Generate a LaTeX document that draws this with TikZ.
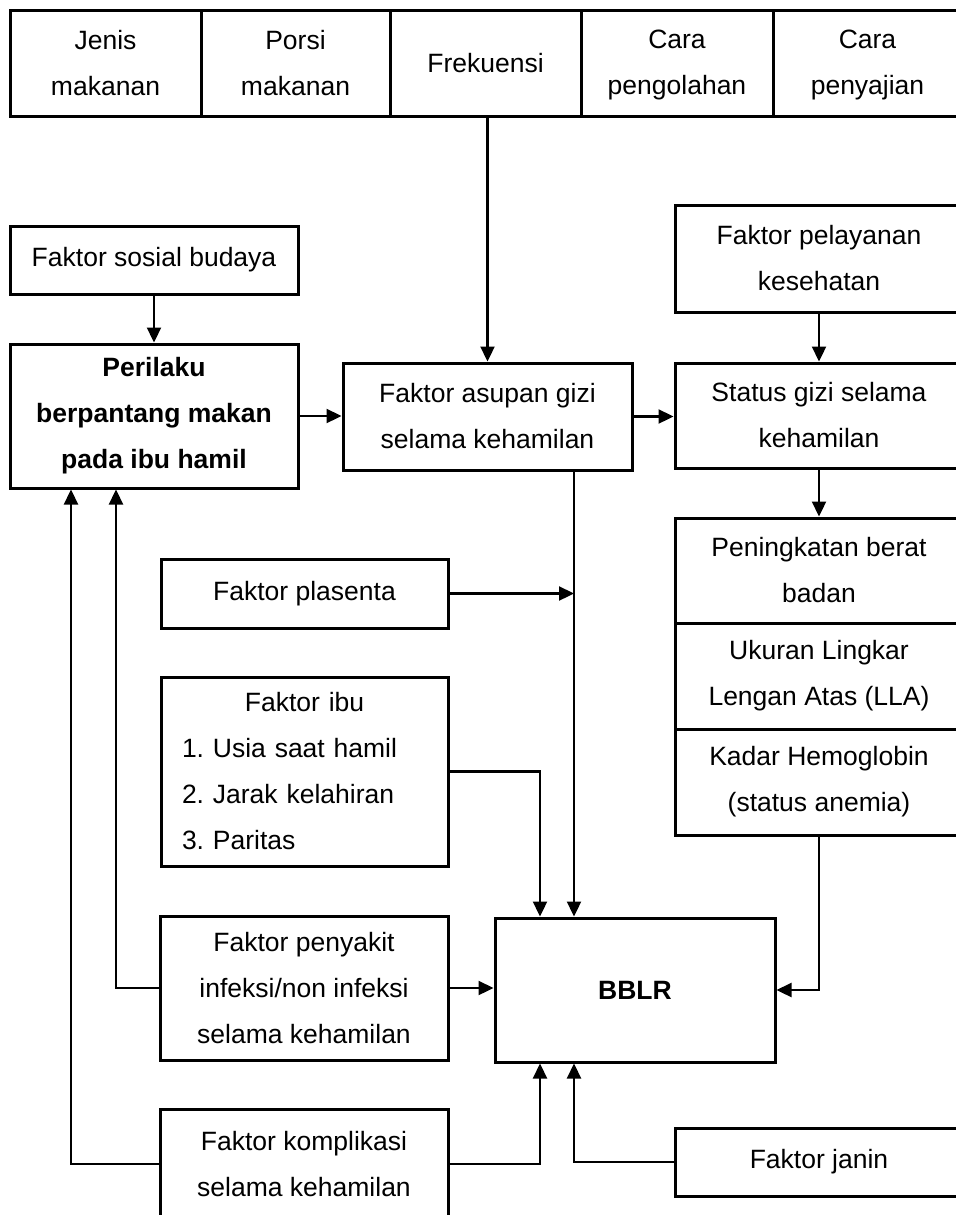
\documentclass[tikz,border=0pt]{standalone}
\usepackage{fontspec}
\setmainfont{Liberation Sans}
\usetikzlibrary{arrows.meta}
\frenchspacing
\begin{document}
\begin{tikzpicture}[x=0.5pt,y=-0.5pt,
  box/.style={draw, line width=1.5pt, inner sep=2pt, align=center,
    font=\fontsize{13.25}{23}\selectfont\frenchspacing},
  wh/.style 2 args={minimum width=#1*0.5pt, minimum height=#2*0.5pt},
  arr/.style={line width=1.15pt, -{Triangle[length=7.5pt,width=7pt]}},
  ln/.style={line width=1.15pt}]
\useasboundingbox (0,0) rectangle (956,1215);
\clip (0,0) rectangle (956,1215);

% top row
\node[box, wh={191}{106}] (jenis) at (105.5,63) {Jenis\\makanan};
\node[box, wh={189}{106}] (porsi) at (295.5,63) {Porsi\\makanan};
\node[box, wh={191}{106}] (freq) at (485.5,63) {Frekuensi};
\node[box, wh={192}{106}] (olah) at (677,63) {\rule{0pt}{11pt}Cara\\pengolahan};
\node[box, wh={189}{106}] (saji) at (867.5,63) {\rule{0pt}{11pt}Cara\\penyajian};

% left column
\node[box, wh={288}{68}] (sos) at (154,260) {Faktor sosial budaya};
\node[box, wh={288}{144}, font=\fontsize{13.25}{23}\selectfont\bfseries] (per) at (154,416) {Perilaku\\berpantang makan\\pada ibu hamil};

% middle
\node[box, wh={289}{107}] (asu) at (487.5,416.5) {Faktor asupan gizi\\selama kehamilan};

% right column
\node[box, wh={288}{107}] (pel) at (819,258.5) {Faktor pelayanan\\kesehatan};
\node[box, wh={288}{105}] (sta) at (819,415.5) {Status gizi selama\\kehamilan};
\node[box, wh={288}{105}] (bb) at (819,570.5) {Peningkatan berat\\badan};
\node[box, wh={288}{106}] (lla) at (819,676) {Ukuran Lingkar\\Lengan Atas (LLA)};
\node[box, wh={288}{106}] (hb) at (819,782) {Kadar Hemoglobin\\(status anemia)};

% factors
\node[box, wh={287}{69}] (pla) at (304.5,593.5) {Faktor plasenta};
\node[box, wh={287}{189}, align=left, text width=122.5pt, inner xsep=10.5pt] (ibu) at (304.5,771.5)
  {\makebox[122.5pt]{Faktor ibu}\\1. Usia saat hamil\\2. Jarak kelahiran\\3. Paritas};
\node[box, wh={288}{144}] (peny) at (304,988) {Faktor penyakit\\infeksi/non infeksi\\selama kehamilan};
\node[box, wh={288}{110}] (kom) at (304,1164) {Faktor komplikasi\\selama kehamilan};
\node[box, wh={280}{144}, font=\fontsize{13.25}{23}\selectfont\bfseries] (bblr) at (635,990) {BBLR};
\node[box, wh={288}{68}] (jan) at (819,1162) {Faktor janin};

% helper coordinates
\coordinate (cA) at (574,0);
\coordinate (cB) at (540,0);
\coordinate (cC) at (116,0);
\coordinate (cD) at (71,0);

% connectors
\draw[arr] (freq.south -| asu.north) -- (asu.north);
\draw[arr] (sos.south) -- (per.north);
\draw[arr] (per.east) -- (per.east -| asu.west);
\draw[arr] (asu.east) -- (asu.east -| sta.west);
\draw[arr] (pel.south) -- (sta.north);
\draw[arr] (sta.south) -- (bb.north);
\draw[arr] (asu.south -| cA) -- (bblr.north -| cA);
\draw[arr] (pla.east) -- (pla.east -| cA);
\draw[arr] (ibu.east) -| (cB |- bblr.north);
\draw[arr] (peny.east) -- (peny.east -| bblr.west);
\draw[arr] (peny.west) -| (cC |- per.south);
\draw[arr] (kom.west) -| (cD |- per.south);
\draw[arr] (kom.east) -| (cB |- bblr.south);
\draw[arr] (jan.west) -| (cA |- bblr.south);
\draw[arr] (hb.south) |- (bblr.east);
\end{tikzpicture}
\end{document}
